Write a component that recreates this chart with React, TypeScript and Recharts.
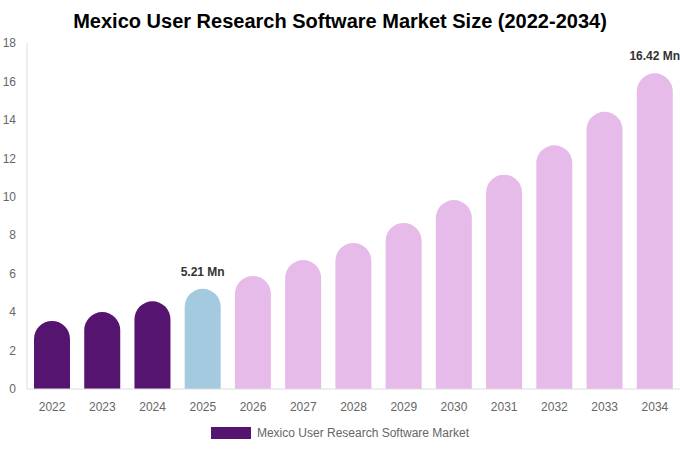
import React from "react";
import { BarChart, Bar, XAxis, YAxis, Cell, LabelList, Legend } from "recharts";

const years = ["2022", "2023", "2024", "2025", "2026", "2027", "2028", "2029", "2030", "2031", "2032", "2033", "2034"];
const marketSize = [3.54, 4.0, 4.56, 5.21, 5.88, 6.71, 7.6, 8.64, 9.83, 11.15, 12.68, 14.42, 16.42];
const valueLabels = ["", "", "", "5.21 Mn", "", "", "", "", "", "", "", "", "16.42 Mn"];
const yTicks = [0, 2, 4, 6, 8, 10, 12, 14, 16, 18];

const seriesName = "Mexico User Research Software Market";

const DARK = "#541470";
const BLUE = "#a3cadf";
const PINK = "#e7bbe9";

function barColor(year: string) {
  const y = Number(year);
  if (y < 2025) return DARK;
  if (y === 2025) return BLUE;
  return PINK;
}

const data = years.map((year, i) => ({
  year,
  value: marketSize[i],
  label: valueLabels[i],
}));

const font = "'Liberation Sans', Arial, sans-serif";

function TopLabel(props: any) {
  const { x, y, width, value } = props;
  if (!value) return null;
  return (
    <text
      x={x + width / 2}
      y={y - 13}
      textAnchor="middle"
      fontSize={12}
      fontWeight="bold"
      fill="#333"
      fontFamily={font}
    >
      {value}
    </text>
  );
}

function LegendContent() {
  return (
    <div style={{ height: 24, display: "flex", justifyContent: "center", alignItems: "center", fontFamily: font }}>
      <span style={{ display: "inline-block", width: 40, height: 12, background: DARK, marginRight: 6 }} />
      <span style={{ fontSize: 12, color: "#666" }}>{seriesName}</span>
    </div>
  );
}

export default function App() {
  return (
    <div style={{ position: "relative", width: 680, height: 450, background: "#fff" }}>
      <style>{"body{margin:0}"}</style>
      <div
        style={{
          position: "absolute",
          top: 8,
          left: 0,
          width: 680,
          textAlign: "center",
          fontFamily: font,
          fontSize: 20,
          fontWeight: "bold",
          color: "#000",
          lineHeight: "26px",
        }}
      >
        Mexico User Research Software Market Size (2022-2034)
      </div>
      <BarChart
        width={680}
        height={450}
        data={data}
        margin={{ top: 43, right: 0, left: 0, bottom: 5 }}
        barSize={36}
      >
        <XAxis
          dataKey="year"
          height={32}
          tickLine={false}
          axisLine={{ stroke: "#ddd" }}
          tick={{ fontSize: 12, fill: "#666", fontFamily: font }}
          tickMargin={7}
        />
        <YAxis
          width={27}
          domain={[0, 18]}
          ticks={yTicks}
          tickLine={false}
          axisLine={{ stroke: "#ddd" }}
          tick={{ fontSize: 12, fill: "#666", fontFamily: font }}
          tickMargin={5}
        />
        <Legend verticalAlign="bottom" height={24} content={<LegendContent />} />
        <Bar dataKey="value" name={seriesName} radius={[18, 18, 0, 0]} isAnimationActive={false}>
          {data.map((d) => (
            <Cell key={d.year} fill={barColor(d.year)} />
          ))}
          <LabelList dataKey="label" content={<TopLabel />} />
        </Bar>
      </BarChart>
    </div>
  );
}
